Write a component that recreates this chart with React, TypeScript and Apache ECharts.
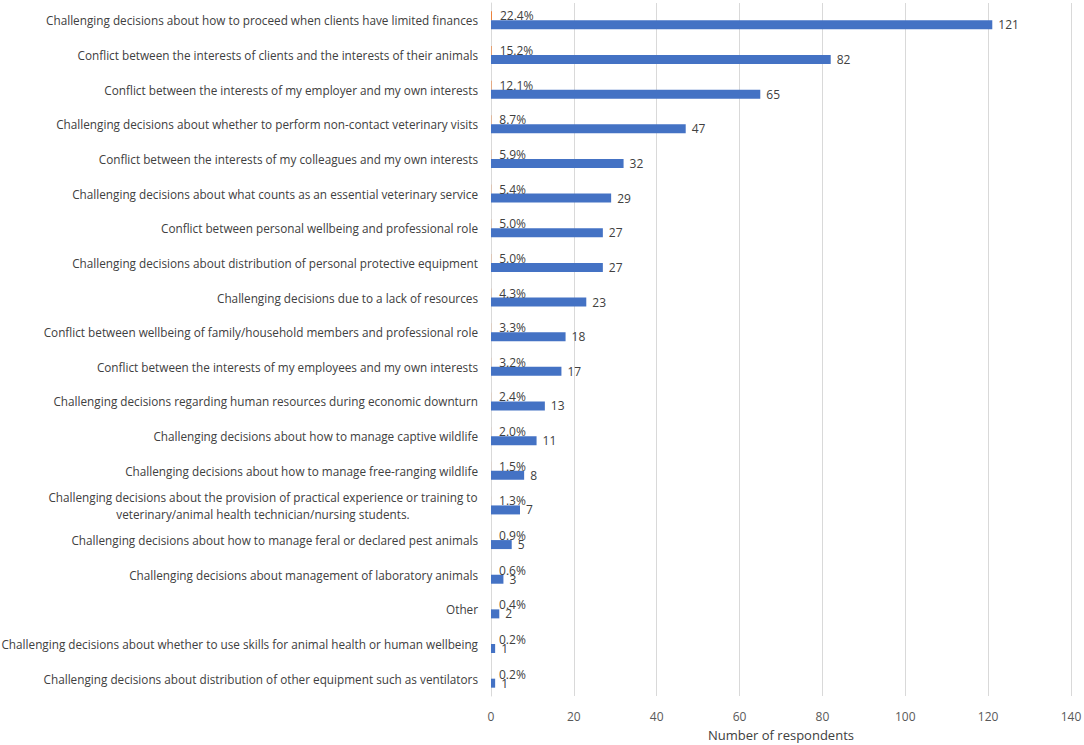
import React, { useEffect, useRef } from "react";
import * as echarts from "echarts";

const categories: string[] = [
  "Challenging decisions about how to proceed when clients have limited finances",
  "Conflict between the interests of clients and the interests of their animals",
  "Conflict between the interests of my employer and my own interests",
  "Challenging decisions about whether to perform non-contact veterinary visits",
  "Conflict between the interests of my colleagues and my own interests",
  "Challenging decisions about what counts as an essential veterinary service",
  "Conflict between personal wellbeing and professional role",
  "Challenging decisions about distribution of personal protective equipment",
  "Challenging decisions due to a lack of resources",
  "Conflict between wellbeing of family/household members and professional role",
  "Conflict between the interests of my employees and my own interests",
  "Challenging decisions regarding human resources during economic downturn",
  "Challenging decisions about how to manage captive wildlife",
  "Challenging decisions about how to manage free-ranging wildlife",
  "Challenging decisions about the provision of practical experience or training to\nveterinary/animal health technician/nursing students.",
  "Challenging decisions about how to manage feral or declared pest animals",
  "Challenging decisions about management of laboratory animals",
  "Other",
  "Challenging decisions about whether to use skills for animal health or human wellbeing",
  "Challenging decisions about distribution of other equipment such as ventilators",
];

const respondents: number[] = [121, 82, 65, 47, 32, 29, 27, 27, 23, 18, 17, 13, 11, 8, 7, 5, 3, 2, 1, 1];

const percentages: number[] = [22.4, 15.2, 12.1, 8.7, 5.9, 5.4, 5.0, 5.0, 4.3, 3.3, 3.2, 2.4, 2.0, 1.5, 1.3, 0.9, 0.6, 0.4, 0.2, 0.2];

const xTicks = { min: 0, max: 140, interval: 20 };

const FONT = "Open Sans";
const CAT_SIZE = 11.75;

export default function App() {
  const ref = useRef<HTMLDivElement>(null);
  useEffect(() => {
    if (!ref.current) return;
    const chart = echarts.init(ref.current, null, { renderer: "svg" });
    chart.setOption({
      animation: false,
      textStyle: { fontFamily: FONT },
      grid: {
        left: 491,
        right: 13,
        top: 3,
        bottom: 49,
        containLabel: false,
        outerBoundsMode: "none",
      },
      xAxis: {
        type: "value",
        min: xTicks.min,
        max: xTicks.max,
        interval: xTicks.interval,
        axisLine: { show: false },
        axisTick: { show: false },
        splitLine: { show: true, lineStyle: { color: "#d9d9d9", width: 1 } },
        axisLabel: { color: "#595959", fontSize: 12, fontFamily: FONT, margin: 14 },
        name: "Number of respondents",
        nameLocation: "middle",
        nameGap: 32,
        nameTextStyle: { color: "#404040", fontSize: 13, fontFamily: FONT },
      },
      yAxis: {
        type: "category",
        inverse: true,
        data: categories,
        axisLine: { show: true, lineStyle: { color: "#d9d9d9" } },
        axisTick: { show: false },
        axisLabel: {
          color: "#404040",
          fontSize: CAT_SIZE,
          fontFamily: FONT,
          margin: 13,
          lineHeight: 17,
          formatter: (v: string) => {
            if (v.indexOf("\n") >= 0) {
              return v
                .split("\n")
                .map((l) => "{c|" + l + "}")
                .join("\n");
            }
            return v;
          },
          rich: {
            c: {
              width: 430,
              align: "center",
              fontSize: CAT_SIZE,
              fontFamily: FONT,
              color: "#404040",
              lineHeight: 17,
            },
          },
        },
      },
      series: [
        {
          name: "Percent",
          type: "bar",
          data: percentages.map((p) => p / 100),
          barWidth: 9,
          barGap: "0%",
          itemStyle: { color: "#ED7D31" },
          label: {
            show: true,
            position: "right",
            distance: 8,
            color: "#404040",
            fontSize: 12,
            fontFamily: FONT,
            formatter: (p: any) => percentages[p.dataIndex].toFixed(1) + "%",
          },
        },
        {
          name: "Respondents",
          type: "bar",
          data: respondents,
          barWidth: 9,
          itemStyle: { color: "#4472C4" },
          label: {
            show: true,
            position: "right",
            distance: 6,
            color: "#404040",
            fontSize: 12,
            fontFamily: FONT,
          },
        },
      ],
    });
    return () => chart.dispose();
  }, []);
  return (
    <div
      ref={ref}
      style={{ position: "fixed", left: 0, top: 0, width: 1084, height: 745, background: "#fff" }}
    />
  );
}
